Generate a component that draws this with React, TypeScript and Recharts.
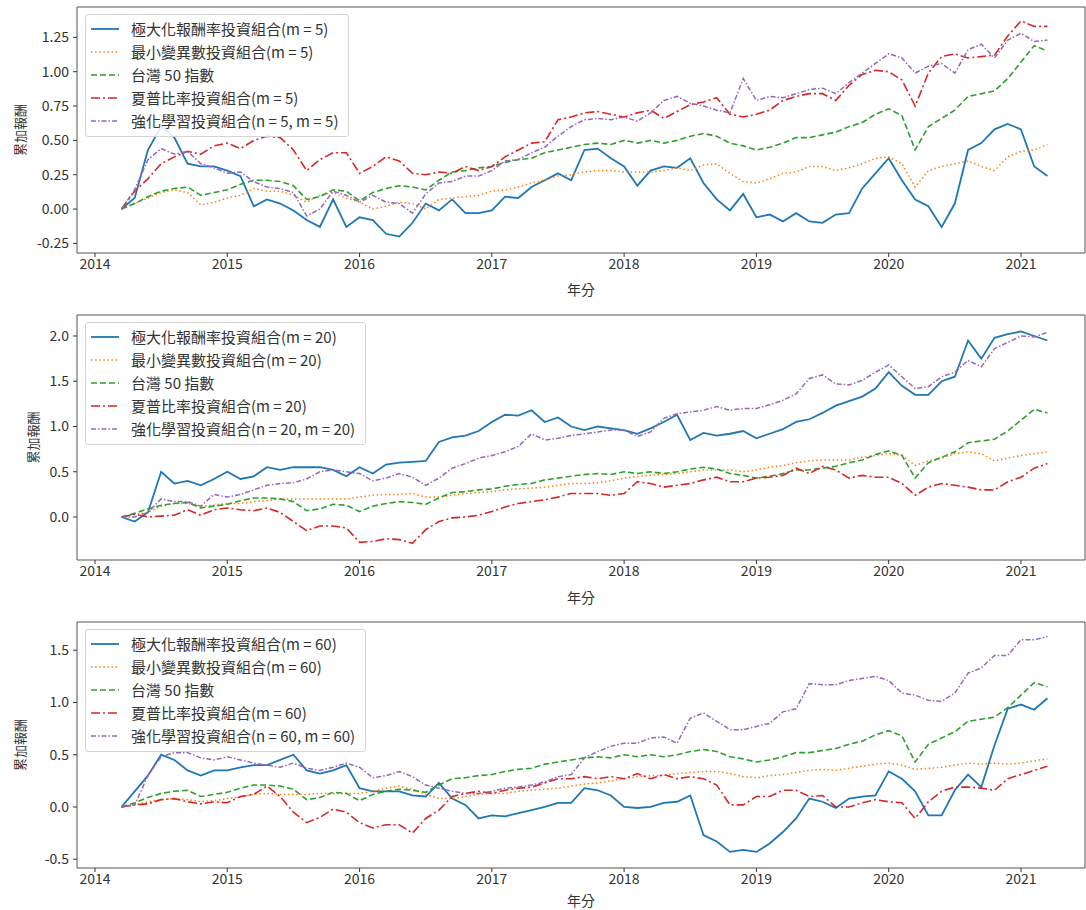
import { LineChart, Line, XAxis, YAxis, ReferenceArea } from "recharts";

// time axis in decimal years (one sample every 0.1 year)
const years = [
  2014.2, 2014.3, 2014.4, 2014.5, 2014.6, 2014.7, 2014.8, 2014.9, 2015.0, 2015.1,
  2015.2, 2015.3, 2015.4, 2015.5, 2015.6, 2015.7, 2015.8, 2015.9, 2016.0, 2016.1,
  2016.2, 2016.3, 2016.4, 2016.5, 2016.6, 2016.7, 2016.8, 2016.9, 2017.0, 2017.1,
  2017.2, 2017.3, 2017.4, 2017.5, 2017.6, 2017.7, 2017.8, 2017.9, 2018.0, 2018.1,
  2018.2, 2018.3, 2018.4, 2018.5, 2018.6, 2018.7, 2018.8, 2018.9, 2019.0, 2019.1,
  2019.2, 2019.3, 2019.4, 2019.5, 2019.6, 2019.7, 2019.8, 2019.9, 2020.0, 2020.1,
  2020.2, 2020.3, 2020.4, 2020.5, 2020.6, 2020.7, 2020.8, 2020.9, 2021.0, 2021.1,
  2021.2,
];

// benchmark, same in every panel
const taiwan50 = [
  0, 0.04, 0.09, 0.13, 0.15, 0.16, 0.1, 0.12, 0.14, 0.18, 0.21, 0.21, 0.2, 0.17, 0.07, 0.09, 0.14, 0.13, 0.06, 0.12, 0.15,
  0.17, 0.16, 0.14, 0.21, 0.27, 0.28, 0.3, 0.31, 0.34, 0.36, 0.37, 0.41, 0.43, 0.45, 0.47, 0.48, 0.47, 0.5, 0.48, 0.5, 0.48, 0.5, 0.53, 0.55, 0.53, 0.48,
  0.46, 0.43, 0.45, 0.48, 0.52, 0.52, 0.54, 0.56, 0.6, 0.63, 0.69, 0.73, 0.68, 0.43, 0.6, 0.66, 0.72, 0.82, 0.84, 0.86, 0.95, 1.07, 1.19, 1.15,
];

// m = 5
const maxRet5 = [
  0, 0.08, 0.43, 0.6, 0.52, 0.33, 0.31, 0.31, 0.28, 0.24, 0.02, 0.07, 0.04, -0.01, -0.08, -0.13, 0.07, -0.13, -0.06, -0.08, -0.18,
  -0.2, -0.1, 0.04, -0.01, 0.07, -0.03, -0.03, -0.01, 0.09, 0.08, 0.16, 0.21, 0.26, 0.21, 0.43, 0.44, 0.37, 0.31, 0.17, 0.28, 0.31, 0.3, 0.37, 0.19, 0.07, -0.01,
  0.11, -0.06, -0.04, -0.09, -0.03, -0.09, -0.1, -0.04, -0.03, 0.15, 0.26, 0.37, 0.21, 0.07, 0.02, -0.13, 0.04, 0.43, 0.48, 0.58, 0.62, 0.58, 0.31, 0.24,
];
const minVar5 = [
  0, 0.04, 0.08, 0.12, 0.14, 0.12, 0.03, 0.05, 0.08, 0.1, 0.15, 0.13, 0.13, 0.1, 0.05, 0.1, 0.12, 0.08, 0.05, 0.0, 0.02,
  0.05, 0.04, 0.0, 0.07, 0.08, 0.09, 0.1, 0.13, 0.14, 0.16, 0.19, 0.21, 0.24, 0.25, 0.27, 0.28, 0.28, 0.27, 0.27, 0.27, 0.28, 0.3, 0.28, 0.32, 0.33, 0.26,
  0.2, 0.19, 0.22, 0.26, 0.27, 0.31, 0.31, 0.28, 0.3, 0.33, 0.37, 0.38, 0.33, 0.16, 0.28, 0.31, 0.33, 0.35, 0.31, 0.28, 0.38, 0.42, 0.43, 0.47,
];
const sharpe5 = [
  0, 0.13, 0.22, 0.33, 0.38, 0.42, 0.4, 0.46, 0.48, 0.44, 0.5, 0.53, 0.52, 0.43, 0.28, 0.36, 0.41, 0.41, 0.26, 0.31, 0.38,
  0.35, 0.26, 0.25, 0.27, 0.26, 0.31, 0.28, 0.31, 0.38, 0.43, 0.48, 0.49, 0.65, 0.67, 0.7, 0.71, 0.69, 0.67, 0.7, 0.72, 0.66, 0.71, 0.76, 0.78, 0.81, 0.69,
  0.67, 0.69, 0.72, 0.79, 0.82, 0.84, 0.84, 0.79, 0.9, 0.98, 1.01, 1.0, 0.94, 0.75, 0.99, 1.11, 1.13, 1.1, 1.11, 1.12, 1.26, 1.37, 1.33, 1.33,
];
const rl5 = [
  0, 0.14, 0.36, 0.44, 0.4, 0.42, 0.33, 0.3, 0.26, 0.27, 0.2, 0.16, 0.15, 0.12, -0.05, 0.0, 0.13, 0.1, 0.05, 0.1, 0.05,
  0.04, -0.03, 0.11, 0.19, 0.2, 0.24, 0.24, 0.28, 0.35, 0.36, 0.41, 0.45, 0.53, 0.6, 0.65, 0.66, 0.65, 0.67, 0.64, 0.7, 0.79, 0.82, 0.77, 0.75, 0.72, 0.7,
  0.95, 0.79, 0.82, 0.81, 0.84, 0.87, 0.88, 0.84, 0.92, 0.99, 1.06, 1.13, 1.1, 0.99, 1.04, 1.06, 0.99, 1.16, 1.2, 1.1, 1.23, 1.28, 1.22, 1.23,
];

// m = 20
const maxRet20 = [
  0, -0.05, 0.05, 0.5, 0.37, 0.4, 0.35, 0.42, 0.5, 0.42, 0.45, 0.55, 0.52, 0.55, 0.55, 0.55, 0.52, 0.45, 0.55, 0.48, 0.58,
  0.6, 0.61, 0.62, 0.83, 0.88, 0.9, 0.95, 1.05, 1.13, 1.12, 1.18, 1.05, 1.1, 1.0, 0.96, 1.0, 0.98, 0.96, 0.92, 0.98, 1.05, 1.13, 0.85, 0.93, 0.9, 0.92,
  0.95, 0.87, 0.92, 0.97, 1.05, 1.08, 1.15, 1.23, 1.28, 1.33, 1.42, 1.6, 1.45, 1.35, 1.35, 1.5, 1.55, 1.95, 1.75, 1.98, 2.02, 2.05, 2.0, 1.95,
];
const minVar20 = [
  0, 0.03, 0.05, 0.12, 0.15, 0.15, 0.12, 0.13, 0.15, 0.15, 0.17, 0.18, 0.2, 0.2, 0.2, 0.2, 0.2, 0.2, 0.22, 0.24, 0.25,
  0.25, 0.26, 0.22, 0.22, 0.24, 0.26, 0.27, 0.28, 0.3, 0.31, 0.32, 0.33, 0.35, 0.37, 0.37, 0.38, 0.4, 0.43, 0.45, 0.46, 0.47, 0.48, 0.5, 0.52, 0.52, 0.52,
  0.5, 0.52, 0.55, 0.57, 0.6, 0.62, 0.63, 0.63, 0.63, 0.66, 0.68, 0.7, 0.68, 0.57, 0.62, 0.65, 0.7, 0.72, 0.7, 0.62, 0.65, 0.68, 0.7, 0.72,
];
const sharpe20 = [
  0, 0.03, 0.0, 0.01, 0.02, 0.08, 0.02, 0.08, 0.1, 0.08, 0.07, 0.1, 0.05, -0.05, -0.15, -0.1, -0.1, -0.12, -0.28, -0.27, -0.24,
  -0.25, -0.29, -0.14, -0.05, -0.01, 0.0, 0.02, 0.06, 0.11, 0.15, 0.17, 0.19, 0.22, 0.26, 0.26, 0.26, 0.24, 0.26, 0.39, 0.37, 0.33, 0.35, 0.37, 0.41, 0.44, 0.39,
  0.39, 0.43, 0.44, 0.46, 0.54, 0.48, 0.56, 0.52, 0.43, 0.46, 0.44, 0.44, 0.37, 0.24, 0.33, 0.37, 0.35, 0.33, 0.3, 0.3, 0.39, 0.44, 0.54, 0.59,
];
const rl20 = [
  0, 0.0, 0.05, 0.2, 0.17, 0.17, 0.12, 0.25, 0.22, 0.25, 0.3, 0.35, 0.37, 0.38, 0.42, 0.5, 0.52, 0.5, 0.48, 0.4, 0.43,
  0.48, 0.44, 0.35, 0.43, 0.54, 0.59, 0.65, 0.68, 0.72, 0.78, 0.92, 0.85, 0.87, 0.9, 0.92, 0.94, 0.96, 0.96, 0.89, 0.94, 1.09, 1.14, 1.16, 1.18, 1.22, 1.18,
  1.2, 1.2, 1.24, 1.29, 1.36, 1.53, 1.57, 1.47, 1.46, 1.51, 1.6, 1.68, 1.55, 1.42, 1.44, 1.55, 1.6, 1.73, 1.66, 1.86, 1.93, 2.0, 1.99, 2.04,
];

// m = 60
const maxRet60 = [
  0, 0.15, 0.3, 0.5, 0.45, 0.35, 0.3, 0.35, 0.35, 0.38, 0.4, 0.4, 0.45, 0.5, 0.35, 0.32, 0.35, 0.4, 0.18, 0.15, 0.15,
  0.15, 0.11, 0.1, 0.23, 0.08, 0.02, -0.11, -0.08, -0.09, -0.06, -0.03, 0.0, 0.04, 0.04, 0.18, 0.16, 0.11, 0.0, -0.01, 0.0, 0.04, 0.05, 0.11, -0.27, -0.33, -0.43,
  -0.41, -0.43, -0.35, -0.24, -0.11, 0.08, 0.05, -0.01, 0.08, 0.1, 0.11, 0.34, 0.27, 0.15, -0.08, -0.08, 0.16, 0.31, 0.19, 0.59, 0.94, 0.98, 0.93, 1.04,
];
const minVar60 = [
  0, 0.02, 0.05, 0.07, 0.08, 0.07, 0.05, 0.06, 0.08, 0.1, 0.12, 0.13, 0.12, 0.12, 0.12, 0.13, 0.13, 0.13, 0.13, 0.15, 0.18,
  0.2, 0.17, 0.12, 0.08, 0.08, 0.1, 0.12, 0.13, 0.13, 0.15, 0.16, 0.17, 0.18, 0.2, 0.22, 0.23, 0.25, 0.27, 0.29, 0.3, 0.3, 0.32, 0.33, 0.34, 0.34, 0.32,
  0.29, 0.28, 0.3, 0.31, 0.33, 0.35, 0.36, 0.35, 0.37, 0.39, 0.41, 0.42, 0.4, 0.36, 0.37, 0.38, 0.4, 0.42, 0.41, 0.42, 0.41, 0.42, 0.44, 0.46,
];
const sharpe60 = [
  0, 0.02, 0.03, 0.07, 0.08, 0.05, 0.03, 0.05, 0.04, 0.1, 0.12, 0.2, 0.1, -0.05, -0.15, -0.1, -0.02, -0.05, -0.15, -0.2, -0.17,
  -0.17, -0.25, -0.11, -0.03, 0.1, 0.13, 0.15, 0.13, 0.16, 0.18, 0.19, 0.23, 0.27, 0.27, 0.29, 0.27, 0.29, 0.27, 0.32, 0.27, 0.31, 0.27, 0.29, 0.27, 0.21, 0.02,
  0.02, 0.1, 0.1, 0.16, 0.16, 0.1, 0.11, 0.0, 0.0, 0.04, 0.07, 0.05, 0.04, -0.11, 0.05, 0.15, 0.19, 0.19, 0.18, 0.16, 0.27, 0.31, 0.35, 0.39,
];
const rl60 = [
  0, 0.02, 0.3, 0.48, 0.52, 0.52, 0.47, 0.45, 0.48, 0.45, 0.42, 0.4, 0.38, 0.42, 0.37, 0.35, 0.38, 0.42, 0.38, 0.28, 0.3,
  0.34, 0.29, 0.21, 0.18, 0.15, 0.13, 0.13, 0.15, 0.18, 0.19, 0.21, 0.24, 0.29, 0.31, 0.47, 0.53, 0.58, 0.61, 0.61, 0.66, 0.67, 0.61, 0.85, 0.9, 0.82, 0.74,
  0.74, 0.77, 0.8, 0.91, 0.94, 1.18, 1.17, 1.17, 1.21, 1.23, 1.25, 1.21, 1.09, 1.07, 1.02, 1.01, 1.09, 1.28, 1.33, 1.45, 1.45, 1.6, 1.6, 1.63,
];

const xTicks = [2014, 2015, 2016, 2017, 2018, 2019, 2020, 2021];
const yTicks5 = [-0.25, 0, 0.25, 0.5, 0.75, 1, 1.25];
const yTicks20 = [0, 0.5, 1, 1.5, 2];
const yTicks60 = [-0.5, 0, 0.5, 1, 1.5];

const X_DOMAIN: [number, number] = [2013.864, 2021.484];
const FONT = '"Noto Sans CJK TC", "Noto Sans", sans-serif';
const INK = "#333";

const STYLES = [
  { key: "maxRet", color: "#1f77b4", dash: undefined, width: 1.8 },
  { key: "minVar", color: "#ff7f0e", dash: "1.5 2.6", width: 1.5 },
  { key: "tw50", color: "#2ca02c", dash: "6 3", width: 1.6 },
  { key: "sharpe", color: "#d62728", dash: "9 3 2 3", width: 1.6 },
  { key: "rl", color: "#9467bd", dash: "5 2 1.5 2", width: 1.5 },
];

type PanelProps = {
  top: number;
  plotHeight: number;
  m: number;
  maxRet: number[];
  minVar: number[];
  sharpe: number[];
  rl: number[];
  yDomain: [number, number];
  yTicks: number[];
  digits: number;
  yLabelX: number;
  xLabelOffset: number;
};

function Panel({
  top,
  plotHeight,
  m,
  maxRet,
  minVar,
  sharpe,
  rl,
  yDomain,
  yTicks,
  digits,
  yLabelX,
  xLabelOffset,
}: PanelProps) {
  const data = years.map((t, i) => ({
    t,
    maxRet: maxRet[i],
    minVar: minVar[i],
    tw50: taiwan50[i],
    sharpe: sharpe[i],
    rl: rl[i],
  }));
  const labels = [
    `極大化報酬率投資組合(m = ${m})`,
    `最小變異數投資組合(m = ${m})`,
    "台灣 50 指數",
    `夏普比率投資組合(m = ${m})`,
    `強化學習投資組合(n = ${m}, m = ${m})`,
  ];
  const height = 7 + plotHeight + 47;

  return (
    <div style={{ position: "absolute", left: 0, top, width: 1086, height }}>
      <LineChart
        width={1086}
        height={height}
        data={data}
        margin={{ top: 7, right: 1, bottom: 0, left: 0 }}
      >
        <XAxis
          dataKey="t"
          type="number"
          domain={X_DOMAIN}
          allowDataOverflow
          ticks={xTicks}
          tickFormatter={(v) => String(v)}
          height={47}
          axisLine={false}
          tickSize={4}
          tickLine={{ stroke: INK }}
          tick={{ fill: INK, fontSize: 14 }}
          label={{
            value: "年分",
            position: "insideBottom",
            offset: xLabelOffset,
            fontSize: 14,
            style: { fill: INK },
          }}
        />
        <YAxis
          type="number"
          domain={yDomain}
          allowDataOverflow
          ticks={yTicks}
          tickFormatter={(v) => Number(v).toFixed(digits)}
          width={77}
          axisLine={false}
          tickSize={4}
          tickMargin={4}
          tickLine={{ stroke: INK }}
          tick={{ fill: INK, fontSize: 14 }}
          label={{
            value: "累加報酬",
            angle: -90,
            position: "insideLeft",
            offset: yLabelX,
            fontSize: 13,
            style: { textAnchor: "middle", fill: INK },
          }}
        />
        <ReferenceArea
          x1={X_DOMAIN[0]}
          x2={X_DOMAIN[1]}
          y1={yDomain[0]}
          y2={yDomain[1]}
          fill="none"
          stroke="#555"
          strokeWidth={1}
        />
        {STYLES.map((s) => (
          <Line
            key={s.key}
            type="linear"
            dataKey={s.key}
            stroke={s.color}
            strokeWidth={s.width}
            strokeDasharray={s.dash}
            dot={false}
            isAnimationActive={false}
          />
        ))}
      </LineChart>

      {/* legend box, upper left like matplotlib */}
      <div
        style={{
          position: "absolute",
          left: 85,
          top: 14,
          padding: "2px 10px 4px 5px",
          background: "rgba(255,255,255,0.85)",
          border: "1px solid #d4d4d4",
          borderRadius: 3,
          fontSize: 15,
          color: INK,
        }}
      >
        {STYLES.map((s, i) => (
          <div key={s.key} style={{ display: "flex", alignItems: "center", height: 23 }}>
            <svg width={28} height={10} style={{ marginRight: 12 }}>
              <line
                x1={0}
                y1={5}
                x2={28}
                y2={5}
                stroke={s.color}
                strokeWidth={s.width}
                strokeDasharray={s.dash}
              />
            </svg>
            <span style={{ whiteSpace: "nowrap" }}>{labels[i]}</span>
          </div>
        ))}
      </div>
    </div>
  );
}

export default function App() {
  return (
    <div
      style={{
        position: "absolute",
        left: 0,
        top: 0,
        width: 1086,
        height: 910,
        overflow: "hidden",
        background: "#fff",
        fontFamily: FONT,
      }}
    >
      <Panel
        top={0}
        plotHeight={246}
        m={5}
        maxRet={maxRet5}
        minVar={minVar5}
        sharpe={sharpe5}
        rl={rl5}
        yDomain={[-0.32, 1.471]}
        yTicks={yTicks5}
        digits={2}
        yLabelX={20}
        xLabelOffset={5}
      />
      <Panel
        top={308}
        plotHeight={245}
        m={20}
        maxRet={maxRet20}
        minVar={minVar20}
        sharpe={sharpe20}
        rl={rl20}
        yDomain={[-0.475, 2.232]}
        yTicks={yTicks20}
        digits={1}
        yLabelX={33}
        xLabelOffset={4}
      />
      <Panel
        top={615}
        plotHeight={246}
        m={60}
        maxRet={maxRet60}
        minVar={minVar60}
        sharpe={sharpe60}
        rl={rl60}
        yDomain={[-0.584, 1.77]}
        yTicks={yTicks60}
        digits={1}
        yLabelX={20}
        xLabelOffset={9}
      />
    </div>
  );
}
